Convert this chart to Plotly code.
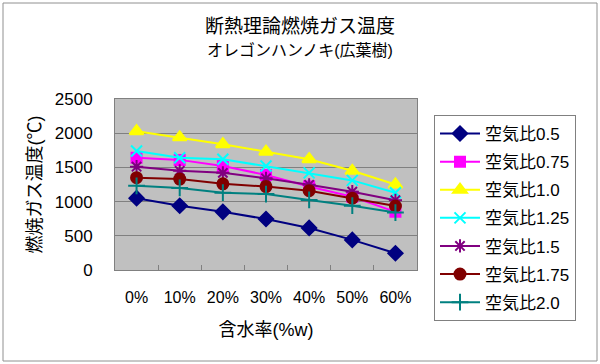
import plotly.graph_objects as go

categories = ["0%", "10%", "20%", "30%", "40%", "50%", "60%"]
series_names = ["空気比0.5", "空気比0.75", "空気比1.0", "空気比1.25", "空気比1.5", "空気比1.75", "空気比2.0"]
v05 = [1050, 940, 850, 745, 615, 440, 245]
v075 = [1640, 1610, 1520, 1390, 1220, 1070, 850]
v10 = [2030, 1940, 1840, 1730, 1620, 1450, 1250]
v125 = [1740, 1640, 1620, 1520, 1420, 1310, 1130]
v15 = [1510, 1450, 1420, 1340, 1245, 1145, 1020]
v175 = [1350, 1330, 1260, 1220, 1160, 1050, 935]
v20 = [1230, 1200, 1130, 1110, 1025, 940, 840]
all_values = [v05, v075, v10, v125, v15, v175, v20]

colors = ["#000080", "#FF00FF", "#FFFF00", "#00FFFF", "#800080", "#800000", "#008080"]
symbols = ["diamond", "square", "triangle-up", "x-thin-open", "asterisk-open", "circle", "cross-thin-open"]
sizes = [11, 10, 12, 11, 11, 11, 12]

font = "Liberation Sans, Noto Sans CJK JP, sans-serif"
fig = go.Figure()
for i, (name, vals) in enumerate(zip(series_names, all_values)):
    fig.add_trace(go.Scatter(
        x=categories, y=vals, name=name, mode="lines+markers",
        legendgroup=str(i),
        line=dict(color=colors[i], width=2),
        marker=dict(symbol=symbols[i], size=sizes[i], color=colors[i],
                    line=dict(color=colors[i], width=2)),
    ))

L, R, T, B = 115, 417, 99, 270
W, H = R - L, B - T
def px(x): return (x - L) / W
def py(y): return (B - y) / H

fig.update_layout(
    width=600, height=364,
    margin=dict(l=L, r=600 - R, t=T, b=364 - B, autoexpand=False),
    paper_bgcolor="white", plot_bgcolor="#C0C0C0",
    font=dict(family=font, color="black", size=17),
    showlegend=True,
    legend=dict(x=px(434), y=py(115), xanchor="left", yanchor="top",
                bgcolor="white", bordercolor="#808080", borderwidth=1,
                font=dict(size=17, family=font), tracegroupgap=3,
                traceorder="grouped", itemwidth=40, maxheight=260),
    xaxis=dict(type="category", range=[-0.5, 6.5], tickson="boundaries",
               ticks="inside", ticklen=5, tickcolor="#808080",
               showgrid=False, showline=True, linecolor="#808080", mirror=True,
               ticklabelstandoff=13, tickfont=dict(size=16),
               automargin=False,
               title=dict(text="含水率(%w)", font=dict(size=18), standoff=18)),
    yaxis=dict(range=[0, 2500], tickvals=[0, 500, 1000, 1500, 2000, 2500],
               showgrid=True, gridcolor="#808080", gridwidth=1,
               showline=True, linecolor="#808080", mirror=True,
               ticks="", ticklabelstandoff=18, tickfont=dict(size=17),
               zeroline=False, automargin=False,
               title=dict(text="燃焼ガス温度(℃)", font=dict(size=18), standoff=8)),
    annotations=[
        dict(text="断熱理論燃焼ガス温度", xref="paper", yref="paper",
             x=px(300), y=py(26), xanchor="center", yanchor="middle",
             showarrow=False, font=dict(size=19)),
        dict(text="オレゴンハンノキ(広葉樹)", xref="paper", yref="paper",
             x=px(300), y=py(50), xanchor="center", yanchor="middle",
             showarrow=False, font=dict(size=16)),
    ],
    shapes=[dict(type="rect", xref="paper", yref="paper",
                 x0=px(3), x1=px(597), y0=py(361), y1=py(3),
                 line=dict(color="#909090", width=1), fillcolor="rgba(0,0,0,0)",
                 layer="below")],
)

fig.write_html("out.html", config={"displayModeBar": False},
               post_script="document.body.style.margin='0';")
